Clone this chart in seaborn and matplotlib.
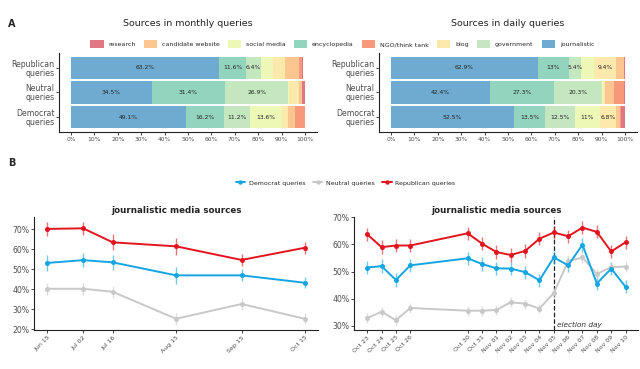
import pandas as pd
import seaborn as sns
import matplotlib.pyplot as plt
from matplotlib.patches import Patch
from matplotlib.lines import Line2D

# ---- data: source shares (stack order left -> right) ----
categories = ['journalistic', 'encyclopedia', 'government', 'social media',
              'blog', 'candidate website', 'NGO/think tank', 'research']
groups = ['Republican\nqueries', 'Neutral\nqueries', 'Democrat\nqueries']

monthly_rep = [63.2, 11.6, 6.4, 5.1, 5.0, 6.0, 1.6, 0.1]
monthly_neu = [34.5, 31.4, 26.9, 0.5, 4.0, 1.4, 0.1, 1.2]
monthly_dem = [49.1, 16.2, 11.2, 13.6, 2.5, 3.0, 4.3, 0.1]
monthly_lbl_rep = ['63.2%', '11.6%', '6.4%', '', '', '', '', '']
monthly_lbl_neu = ['34.5%', '31.4%', '26.9%', '', '', '', '', '']
monthly_lbl_dem = ['49.1%', '16.2%', '11.2%', '13.6%', '', '', '', '']

daily_rep = [62.9, 13.0, 5.4, 5.5, 9.4, 3.2, 0.2, 0.4]
daily_neu = [42.4, 27.3, 20.3, 0.5, 1.1, 3.8, 4.3, 0.3]
daily_dem = [52.5, 13.5, 12.5, 11.0, 6.8, 1.5, 0.5, 1.7]
daily_lbl_rep = ['62.9%', '13%', '5.4%', '', '9.4%', '', '', '']
daily_lbl_neu = ['42.4%', '27.3%', '20.3%', '', '', '', '', '']
daily_lbl_dem = ['52.5%', '13.5%', '12.5%', '11%', '6.8%', '', '', '']

# ---- data: share of journalistic sources over time ----
monthly_dates = ['2018-06-15', '2018-07-02', '2018-07-16', '2018-08-15', '2018-09-15', '2018-10-15']
monthly_dem_j = [53.2, 54.6, 53.5, 47.0, 47.0, 43.3]
monthly_neu_j = [40.3, 40.3, 38.8, 25.3, 32.7, 25.3]
monthly_rep_j = [70.2, 70.5, 63.5, 61.5, 54.7, 60.8]
monthly_dem_err = [3.8, 3.5, 3.9, 4.3, 3.0, 2.8]
monthly_neu_err = [3.0, 3.0, 3.0, 3.0, 3.0, 2.8]
monthly_rep_err = [3.3, 3.3, 4.0, 4.3, 3.2, 3.0]

daily_dates = ['2018-10-23', '2018-10-24', '2018-10-25', '2018-10-26', '2018-10-30', '2018-10-31',
               '2018-11-01', '2018-11-02', '2018-11-03', '2018-11-04', '2018-11-05', '2018-11-06',
               '2018-11-07', '2018-11-08', '2018-11-09', '2018-11-10']
daily_dem_j = [51.5, 52.0, 46.9, 52.3, 54.9, 52.8, 51.2, 51.1, 49.8, 46.8, 55.2, 52.3, 59.9, 45.6, 51.1, 44.4]
daily_neu_j = [32.9, 35.2, 32.1, 36.6, 35.6, 35.6, 35.9, 38.7, 38.2, 36.4, 42.1, 53.8, 55.2, 49.1, 51.7, 51.8]
daily_rep_j = [63.7, 59.0, 59.6, 59.6, 64.1, 60.3, 57.2, 56.1, 57.6, 62.1, 64.4, 63.0, 66.2, 64.6, 57.4, 60.8]
daily_dem_err = [2.4, 2.5, 2.4, 2.5, 2.4, 2.4, 2.4, 2.4, 2.4, 2.4, 2.5, 2.6, 2.6, 2.5, 2.4, 2.4]
daily_neu_err = [1.8, 1.8, 1.8, 1.8, 1.8, 1.8, 1.8, 1.8, 1.8, 1.8, 1.9, 2.2, 2.2, 2.0, 2.0, 2.0]
daily_rep_err = [2.4, 2.5, 2.4, 2.4, 2.4, 2.4, 2.5, 2.5, 2.5, 2.4, 2.4, 2.4, 2.3, 2.4, 2.5, 2.4]
election_day = '2018-11-05'

# Spectral palette (drawn with alpha 0.7) in stack order
bar_colors = ['#3288bd', '#66c2a5', '#abdda4', '#e6f598',
              '#fee08b', '#fdae61', '#f46d43', '#d53e4f']
party_colors = {'Democrat queries': '#14a5e3', 'Neutral queries': '#c8c8c8',
                'Republican queries': '#e3141e'}

sns.set_theme(style='ticks')
plt.rcParams['font.family'] = ['DejaVu Sans']
tick_col = '#4d4d4d'

fig = plt.figure(figsize=(6.4, 3.69), dpi=100)


def stacked_bars(ax, rows, labels, title):
    for i, (vals, lbls) in enumerate(zip(rows, labels)):
        left = 0
        for v, lab, c in zip(vals, lbls, bar_colors):
            ax.barh(i, v, left=left, height=0.9, color=c, alpha=0.7, edgecolor='none')
            if lab:
                ax.text(left + v / 2, i, lab, ha='center', va='center', fontsize=4.3, color='#222222')
            left += v
    ax.set_xlim(-5, 105)
    ax.set_ylim(2.6, -0.6)
    ax.set_yticks(range(3))
    ax.set_yticklabels(groups, fontsize=5.6, color=tick_col, linespacing=1.0)
    ax.set_xticks(range(0, 101, 10))
    ax.set_xticklabels([f'{t}%' for t in range(0, 101, 10)], fontsize=4.3, color=tick_col)
    ax.tick_params(length=2, width=0.6, pad=1.5)
    for s in ['left', 'bottom']:
        ax.spines[s].set_linewidth(0.8)
        ax.spines[s].set_color('#222222')
    sns.despine(ax=ax)
    fig.text((ax.get_position().x0 + ax.get_position().x1) / 2, 1 - 24 / 369, title,
             ha='center', va='center', fontsize=6.8, color='#222222')


ax1 = fig.add_axes([0.0927, 0.6423, 0.402, 0.2141])
stacked_bars(ax1, [monthly_rep, monthly_neu, monthly_dem],
             [monthly_lbl_rep, monthly_lbl_neu, monthly_lbl_dem], 'Sources in monthly queries')
ax2 = fig.add_axes([0.5927, 0.6423, 0.402, 0.2141])
stacked_bars(ax2, [daily_rep, daily_neu, daily_dem],
             [daily_lbl_rep, daily_lbl_neu, daily_lbl_dem], 'Sources in daily queries')

# top legend
legend_order = ['research', 'candidate website', 'social media', 'encyclopedia',
                'NGO/think tank', 'blog', 'government', 'journalistic']
color_of = dict(zip(categories, bar_colors))
handles = [Patch(facecolor=color_of[c], alpha=0.7, edgecolor='none') for c in legend_order]
fig.legend(handles, legend_order, loc='center', bbox_to_anchor=(0.535, 1 - 44 / 369), ncol=8,
           frameon=False, fontsize=4.5, handlelength=2.1, handleheight=1.8,
           handletextpad=0.8, columnspacing=1.3)


def trend(ax, dates, series, errs, title, ylim, yticks):
    d = pd.to_datetime(dates)
    frames = []
    for name, vals in series.items():
        frames.append(pd.DataFrame({'date': d, 'share': vals, 'group': name}))
    df = pd.concat(frames)
    for name, e in errs.items():
        vals = series[name]
        ax.errorbar(d, vals, yerr=e, fmt='none', ecolor=party_colors[name], elinewidth=1.0,
                    alpha=0.6, capsize=0, zorder=2)
    sns.lineplot(data=df, x='date', y='share', hue='group', palette=party_colors,
                 hue_order=['Neutral queries', 'Democrat queries', 'Republican queries'],
                 marker='o', markersize=3.6, markeredgewidth=0, linewidth=1.4,
                 legend=False, ax=ax, zorder=3)
    span = d.max() - d.min()
    ax.set_xlim(d.min() - span * 0.05, d.max() + span * 0.05)
    ax.set_ylim(*ylim)
    ax.set_yticks(yticks)
    ax.set_yticklabels([f'{t}%' for t in yticks], fontsize=5.6, color=tick_col)
    ax.set_xticks(d)
    ax.set_xticklabels([x.strftime('%b %d') for x in d], rotation=45, ha='right',
                       rotation_mode='anchor', fontsize=4.5, color=tick_col)
    ax.set_xlabel('')
    ax.set_ylabel('')
    ax.tick_params(length=2, width=0.6, pad=1.5)
    for s in ['left', 'bottom']:
        ax.spines[s].set_linewidth(0.8)
        ax.spines[s].set_color('#222222')
    sns.despine(ax=ax)
    ax.set_title(title, fontsize=6.3, fontweight='bold', color='#222222', pad=3)
    return d


ax3 = fig.add_axes([0.0536, 0.1057, 0.443, 0.307])
trend(ax3, monthly_dates,
      {'Democrat queries': monthly_dem_j, 'Neutral queries': monthly_neu_j, 'Republican queries': monthly_rep_j},
      {'Democrat queries': monthly_dem_err, 'Neutral queries': monthly_neu_err, 'Republican queries': monthly_rep_err},
      'journalistic media sources', (19.7, 76.3), [20, 30, 40, 50, 60, 70])

ax4 = fig.add_axes([0.5536, 0.1057, 0.444, 0.307])
trend(ax4, daily_dates,
      {'Democrat queries': daily_dem_j, 'Neutral queries': daily_neu_j, 'Republican queries': daily_rep_j},
      {'Democrat queries': daily_dem_err, 'Neutral queries': daily_neu_err, 'Republican queries': daily_rep_err},
      'journalistic media sources', (28.5, 70.2), [30, 40, 50, 60, 70])
eday = pd.Timestamp(election_day)
ax4.axvline(eday, color='#222222', linestyle='--', linewidth=0.9, zorder=1)
ax4.text(eday + pd.Timedelta(hours=6), 29.2, 'election day', style='italic', fontsize=5.3,
         color='#333333', ha='left', va='bottom')

# bottom legend
line_handles = [Line2D([], [], color=party_colors[n], marker='o', markersize=3.2, linewidth=1.4,
                       markeredgewidth=0) for n in party_colors]
fig.legend(line_handles, list(party_colors), loc='center', bbox_to_anchor=(0.54, 1 - 183 / 369),
           ncol=3, frameon=False, fontsize=4.5, handlelength=1.5, handletextpad=0.6,
           columnspacing=1.2)

fig.text(0.012, 1 - 24 / 369, 'A', fontsize=7, fontweight='bold', va='center')
fig.text(0.012, 1 - 163 / 369, 'B', fontsize=7, fontweight='bold', va='center')

fig.savefig('out.png', dpi=100)
